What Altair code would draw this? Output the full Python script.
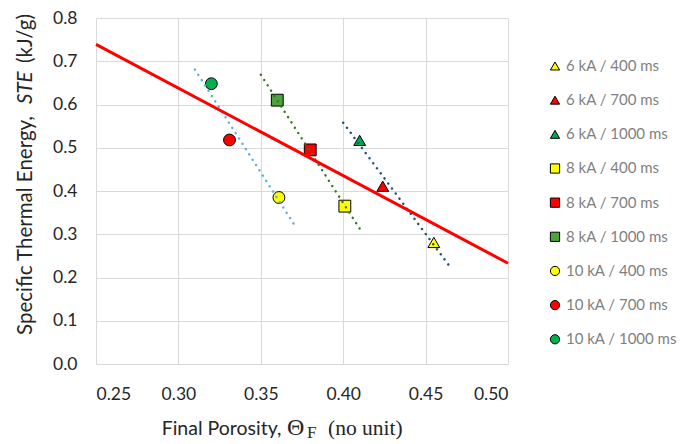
import altair as alt
import pandas as pd

# ---- data ----
series = ["6 kA / 400 ms", "6 kA / 700 ms", "6 kA / 1000 ms",
          "8 kA / 400 ms", "8 kA / 700 ms", "8 kA / 1000 ms",
          "10 kA / 400 ms", "10 kA / 700 ms", "10 kA / 1000 ms"]
porosity = [0.455, 0.424, 0.410, 0.401, 0.380, 0.360, 0.361, 0.331, 0.320]
ste = [0.281, 0.411, 0.517, 0.365, 0.495, 0.610, 0.385, 0.518, 0.648]
fills = ["#FFFF00", "#FF0000", "#00A651",
         "#FFFF00", "#FF0000", "#4CA43A",
         "#FFFF00", "#FF0000", "#00B050"]
shapes = ["triangle-up"] * 3 + ["square"] * 3 + ["circle"] * 3
sizes = [140] * 3 + [105] * 3 + [100] * 3
legend_sizes = [85] * 3 + [70] * 3 + [75] * 3

trend_x0 = [0.400, 0.350, 0.310]
trend_x1 = [0.464, 0.410, 0.370]
trend_y0 = [0.558, 0.669, 0.681]
trend_y1 = [0.229, 0.313, 0.324]
trend_colors = ["#1F4E79", "#38761D", "#5DADE2"]

overall_x = [0.25, 0.50]
overall_y = [0.739, 0.233]

x_ticks = [0.25, 0.30, 0.35, 0.40, 0.45, 0.50]
y_ticks = [0.0, 0.1, 0.2, 0.3, 0.4, 0.5, 0.6, 0.7, 0.8]

FONT = "Lato"
SERIF = "Liberation Serif"

pts = pd.DataFrame({"series": series, "x": porosity, "y": ste})

xscale = alt.Scale(domain=[0.25, 0.50], nice=False, zero=False)
yscale = alt.Scale(domain=[0.0, 0.8], nice=False, zero=False)
color_scale = alt.Scale(domain=series, range=fills)
shape_scale = alt.Scale(domain=series, range=shapes)

xaxis = alt.Axis(values=x_ticks, format=".2f", title=None, ticks=False, domain=False,
                 labelFont=FONT, labelFontSize=17.5, labelColor="#262626",
                 labelPadding=21, gridColor="#D9D9D9", gridWidth=1)
yaxis = alt.Axis(values=y_ticks, format=".1f", title=None, ticks=False, domain=False,
                 labelFont=FONT, labelFontSize=17.5, labelColor="#262626",
                 labelPadding=19, gridColor="#D9D9D9", gridWidth=1)

points = alt.Chart(pts).mark_point(filled=True, stroke="black",
                                   strokeWidth=1, opacity=1).encode(
    x=alt.X("x:Q", scale=xscale, axis=xaxis),
    y=alt.Y("y:Q", scale=yscale, axis=yaxis),
    color=alt.Color("series:N", scale=color_scale, legend=None),
    shape=alt.Shape("series:N", scale=shape_scale, legend=None),
    size=alt.Size("series:N", scale=alt.Scale(domain=series, range=sizes), legend=None),
)

plot_layers = [points]
for i in range(len(trend_colors)):
    seg = pd.DataFrame({"x0": [trend_x0[i]], "x1": [trend_x1[i]],
                        "y0": [trend_y0[i]], "y1": [trend_y1[i]]})
    plot_layers.append(alt.Chart(seg).mark_rule(strokeWidth=2.4, strokeDash=[0.1, 6.2],
                                                strokeCap="round",
                                                color=trend_colors[i]).encode(
        x=alt.X("x0:Q", scale=xscale),
        x2="x1:Q",
        y=alt.Y("y0:Q", scale=yscale),
        y2="y1:Q",
    ))

overall = pd.DataFrame({"x0": [overall_x[0]], "x1": [overall_x[1]],
                        "y0": [overall_y[0]], "y1": [overall_y[1]]})
plot_layers.append(alt.Chart(overall).mark_rule(strokeWidth=3, color="#FF0000").encode(
    x=alt.X("x0:Q", scale=xscale),
    x2="x1:Q",
    y=alt.Y("y0:Q", scale=yscale),
    y2="y1:Q",
))


# ---- axis titles (mixed fonts) as text ----
def label(txt, x, y, font, size, angle=0, style="normal"):
    return alt.Chart(pd.DataFrame({"t": [txt]})).mark_text(
        font=font, fontSize=size, align="left", baseline="alphabetic",
        angle=angle, fontStyle=style, color="#262626").encode(
        text="t:N", x=alt.value(x), y=alt.value(y))


plot_layers += [
    label("Final Porosity,", 65.7, 417, FONT, 19.5),
    label("\u0398", 191, 417, SERIF, 24),
    label("F", 211, 420, SERIF, 17),
    label("(no unit)", 232, 417, SERIF, 21.5),
    label("Specific Thermal Energy,", -64, 317, FONT, 20.5, angle=270),
    label("STE", -64, 86, FONT, 20.5, angle=270, style="italic"),
    label("(kJ/g)", -64, 45, FONT, 20.5, angle=270),
]

main = alt.layer(*plot_layers)

# ---- legend (built from the series list through an ordinal scale) ----
leg_y = alt.Y("series:N", sort=series, axis=None,
              scale=alt.Scale(type="point", domain=series, range=[48, 321.3], padding=0))
leg_sym = alt.Chart(pts).mark_point(filled=True, stroke="black", strokeWidth=1,
                                    opacity=1).encode(
    x=alt.value(459),
    y=leg_y,
    color=alt.Color("series:N", scale=color_scale, legend=None),
    shape=alt.Shape("series:N", scale=shape_scale, legend=None),
    size=alt.Size("series:N", scale=alt.Scale(domain=series, range=legend_sizes),
                  legend=None),
)
leg_txt = alt.Chart(pts).mark_text(align="left", baseline="middle", font=FONT,
                                   fontSize=15, color="#7F7F7F").encode(
    x=alt.value(470),
    y=leg_y,
    text="series:N",
)
legend_layer = alt.layer(leg_sym, leg_txt)

chart = alt.layer(main, legend_layer).resolve_scale(
    y="independent", size="independent"
).properties(
    width=412, height=346,
    autosize=alt.AutoSizeParams(type="none"),
    padding={"left": 96, "top": 18, "right": 174, "bottom": 80},
).configure_view(stroke=None)

chart.save("out.html", embed_options={"renderer": "svg", "actions": False})
